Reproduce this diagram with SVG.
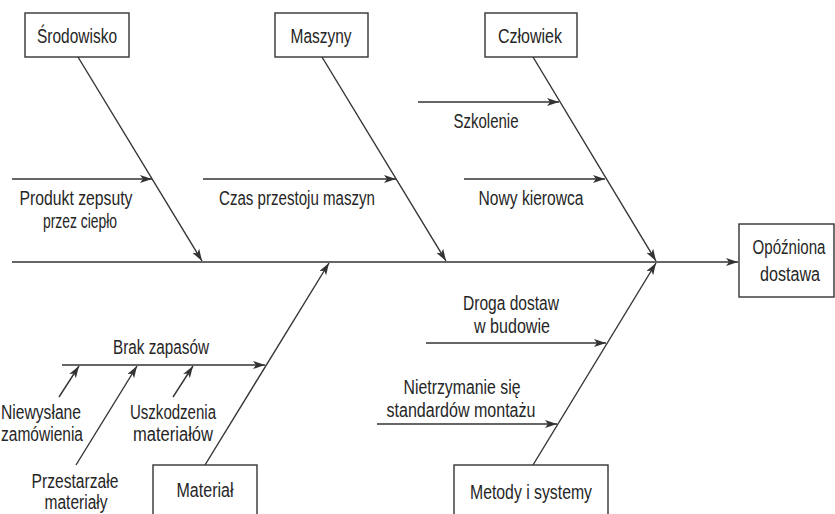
<svg xmlns="http://www.w3.org/2000/svg" width="835" height="514" viewBox="0 0 835 514">
<style>
.bx{fill:#fff;stroke:#333;stroke-width:1.4}
.ln{stroke:#333;stroke-width:1.4;fill:none}
.ar{marker-end:url(#ah)}
text{font-family:"Liberation Sans Narrow","Liberation Sans",Arial,sans-serif;font-size:20px;fill:#262626;text-anchor:middle}
</style>
<defs>
<marker id="ah" markerUnits="userSpaceOnUse" markerWidth="13" markerHeight="9" refX="12" refY="4" orient="auto">
<path d="M0,0 L12,4 L0,8 L3,4 z" fill="#333"/>
</marker>
</defs>
<rect width="835" height="514" fill="#fff"/>
<g id="connectors">
<line class="ln ar" x1="12" y1="262" x2="738" y2="262"/>
<line class="ln ar" x1="78" y1="57" x2="202" y2="261"/>
<line class="ln ar" x1="322" y1="57" x2="446" y2="261"/>
<line class="ln ar" x1="533" y1="57" x2="656" y2="261"/>
<line class="ln ar" x1="205" y1="465" x2="329" y2="263"/>
<line class="ln ar" x1="533" y1="465" x2="656" y2="263"/>
<line class="ln ar" x1="12" y1="179" x2="152" y2="179"/>
<line class="ln ar" x1="203" y1="179" x2="396" y2="179"/>
<line class="ln ar" x1="418" y1="102" x2="559" y2="102"/>
<line class="ln ar" x1="464" y1="179" x2="605" y2="179"/>
<line class="ln ar" x1="62" y1="365" x2="265" y2="365"/>
<line class="ln ar" x1="59" y1="397" x2="79" y2="366"/>
<line class="ln ar" x1="76" y1="465" x2="137" y2="366"/>
<line class="ln ar" x1="173" y1="397" x2="193" y2="366"/>
<line class="ln ar" x1="426" y1="343" x2="606" y2="343"/>
<line class="ln ar" x1="377" y1="424" x2="557" y2="424"/>
</g>
<g id="srodowisko"><rect class="bx" x="25" y="13" width="104" height="44"/><text x="77" y="43" textLength="80" lengthAdjust="spacingAndGlyphs">Środowisko</text></g>
<g id="maszyny"><rect class="bx" x="275" y="13" width="93" height="44"/><text x="321" y="43" textLength="61" lengthAdjust="spacingAndGlyphs">Maszyny</text></g>
<g id="czlowiek"><rect class="bx" x="485" y="13" width="92" height="44"/><text x="530" y="43" textLength="64" lengthAdjust="spacingAndGlyphs">Człowiek</text></g>
<g id="opozniona"><rect class="bx" x="739" y="224" width="95" height="73"/><text x="789" y="254" textLength="73" lengthAdjust="spacingAndGlyphs">Opóźniona</text><text x="790" y="281" textLength="60" lengthAdjust="spacingAndGlyphs">dostawa</text></g>
<g id="material"><rect class="bx" x="153" y="465" width="104" height="60"/><text x="205" y="497" textLength="57" lengthAdjust="spacingAndGlyphs">Materiał</text></g>
<g id="metody"><rect class="bx" x="454" y="465" width="154" height="60"/><text x="531" y="499" textLength="122" lengthAdjust="spacingAndGlyphs">Metody i systemy</text></g>
<g id="produkt"><text x="76" y="205" textLength="113" lengthAdjust="spacingAndGlyphs">Produkt zepsuty</text><text x="80" y="228" textLength="74" lengthAdjust="spacingAndGlyphs">przez ciepło</text></g>
<g id="czas"><text x="297" y="205" textLength="156" lengthAdjust="spacingAndGlyphs">Czas przestoju maszyn</text></g>
<g id="szkolenie"><text x="486" y="128" textLength="65" lengthAdjust="spacingAndGlyphs">Szkolenie</text></g>
<g id="nowy"><text x="531" y="205" textLength="105" lengthAdjust="spacingAndGlyphs">Nowy kierowca</text></g>
<g id="brak"><text x="161" y="354" textLength="96" lengthAdjust="spacingAndGlyphs">Brak zapasów</text></g>
<g id="niewyslane"><text x="41" y="419" textLength="80" lengthAdjust="spacingAndGlyphs">Niewysłane</text><text x="42" y="441" textLength="82" lengthAdjust="spacingAndGlyphs">zamówienia</text></g>
<g id="uszkodzenia"><text x="173" y="419" textLength="86" lengthAdjust="spacingAndGlyphs">Uszkodzenia</text><text x="173" y="441" textLength="80" lengthAdjust="spacingAndGlyphs">materiałów</text></g>
<g id="przestarzale"><text x="75" y="488" textLength="87" lengthAdjust="spacingAndGlyphs">Przestarzałe</text><text x="76" y="509" textLength="63" lengthAdjust="spacingAndGlyphs">materiały</text></g>
<g id="droga"><text x="511" y="310" textLength="96" lengthAdjust="spacingAndGlyphs">Droga dostaw</text><text x="512" y="333" textLength="76" lengthAdjust="spacingAndGlyphs">w budowie</text></g>
<g id="nietrzymanie"><text x="462" y="394" textLength="117" lengthAdjust="spacingAndGlyphs">Nietrzymanie się</text><text x="461" y="417" textLength="149" lengthAdjust="spacingAndGlyphs">standardów montażu</text></g>
</svg>
